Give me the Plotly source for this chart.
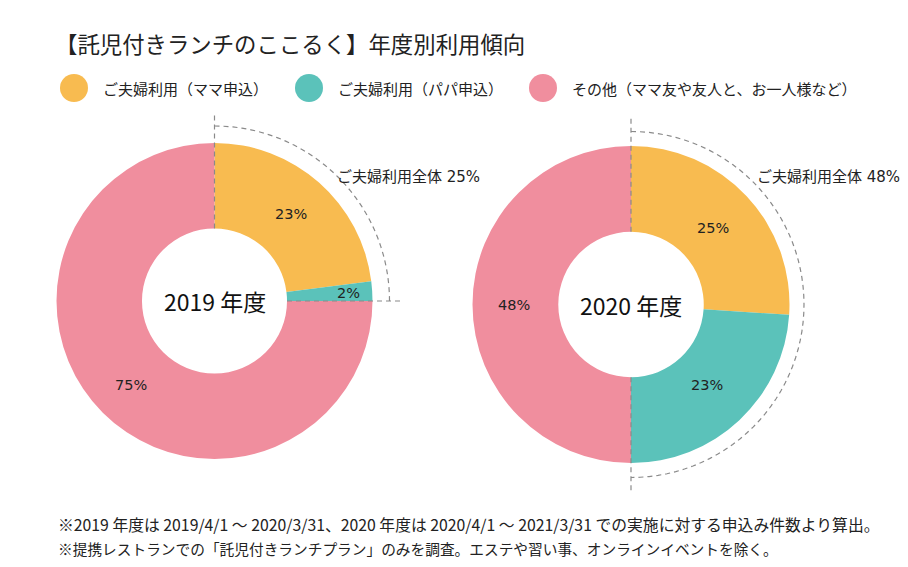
import math
import plotly.graph_objects as go

W, H = 908, 567
FONT = "Noto Sans CJK JP"
NUMFONT = "DejaVu Sans, Noto Sans CJK JP"

title = "【託児付きランチのここるく】年度別利用傾向"
categories = ["ご夫婦利用（ママ申込）", "ご夫婦利用（パパ申込）", "その他（ママ友や友人と、お一人様など）"]
colors = ["#F8BB50", "#5BC2BA", "#F08E9E"]
years = ["2019 年度", "2020 年度"]
values_2019 = [23, 2, 75]
values_2020 = [25, 23, 48]
couple_label = "ご夫婦利用全体 "
notes = [
    "※2019 年度は 2019/4/1 ～ 2020/3/31、2020 年度は 2020/4/1 ～ 2021/3/31 での実施に対する申込み件数より算出。",
    "※提携レストランでの「託児付きランチプラン」のみを調査。エステや習い事、オンラインイベントを除く。",
]

# layout (pixels)
pies = [
    dict(vals=values_2019, cx=214.5, cy=301.0, r=158.0, arc_r=175.0,
         lab_r=[0.73, 0.85, 0.75], note_xy=(335, 177)),
    dict(vals=values_2020, cx=631.0, cy=304.5, r=158.5, arc_r=173.0,
         lab_r=[0.71, 0.70, 0.74], note_xy=(755, 177)),
]
HOLE = 0.459
LINE_R = 189.0

fig = go.Figure()
shapes = []
annotations = []


def pt(cx, cy, rad, ang_deg):
    a = math.radians(ang_deg)
    return cx + rad * math.sin(a), cy - rad * math.cos(a)


for p, yr in zip(pies, years):
    cx, cy, r = p["cx"], p["cy"], p["r"]
    fig.add_trace(go.Pie(
        values=p["vals"], labels=categories, sort=False, direction="clockwise",
        rotation=0, hole=HOLE, textinfo="none", hoverinfo="label+value",
        marker=dict(colors=colors, line=dict(width=0)), showlegend=False,
        domain=dict(x=[(cx - r) / W, (cx + r) / W], y=[1 - (cy + r) / H, 1 - (cy - r) / H]),
    ))
    total = sum(p["vals"])
    start = 0.0
    for v, lr in zip(p["vals"], p["lab_r"]):
        mid = (start + v / 2) / total * 360
        x, y = pt(cx, cy, r * lr, mid)
        annotations.append(dict(x=x, y=y, xref="x", yref="y", text=f"{v}%", showarrow=False,
                                font=dict(size=14.5, color="#222", family=NUMFONT)))
        start += v
    # center text
    annotations.append(dict(x=cx, y=cy, xref="x", yref="y", text=yr, showarrow=False,
                            font=dict(size=23, color="#111", family=FONT)))
    # couples total
    couple = p["vals"][0] + p["vals"][1]
    end_ang = couple / total * 360
    nx, ny = p["note_xy"]
    annotations.append(dict(x=nx, y=ny, xref="x", yref="y", text=f"{couple_label}{couple}%",
                            showarrow=False, xanchor="left",
                            font=dict(size=15, color="#222", family=NUMFONT)))
    # dashed arc
    pts = [pt(cx, cy, p["arc_r"], end_ang * i / 60) for i in range(61)]
    path = "M " + " L ".join(f"{x:.2f},{y:.2f}" for x, y in pts)
    dash = dict(color="#8a8a8a", width=1.2, dash="5px,4px")
    shapes.append(dict(type="path", path=path, xref="x", yref="y", line=dash, layer="above"))
    # radial dashed lines at start and end
    for ang in (0.0, end_ang):
        x0, y0 = pt(cx, cy, r * HOLE, ang)
        x1, y1 = pt(cx, cy, LINE_R, ang)
        shapes.append(dict(type="line", x0=x0, y0=y0, x1=x1, y1=y1, xref="x", yref="y",
                           line=dash, layer="above"))

# title
annotations.append(dict(x=53, y=43, xref="x", yref="y", text=title, showarrow=False,
                        xanchor="left", font=dict(size=22.4, color="#222", family=FONT)))
# legend
leg_x = [74, 309, 543]
for lx, c, name in zip(leg_x, colors, categories):
    shapes.append(dict(type="circle", x0=lx - 14, x1=lx + 14, y0=74, y1=102, xref="x", yref="y",
                       fillcolor=c, line=dict(width=0), layer="above"))
    annotations.append(dict(x=lx + 27, y=88, xref="x", yref="y", text=name, showarrow=False,
                            xanchor="left", font=dict(size=15, color="#222", family=FONT)))
# notes
note_sizes = [15.8, 14.7]
for i, (n, s) in enumerate(zip(notes, note_sizes)):
    annotations.append(dict(x=56, y=524 + 24 * i, xref="x", yref="y", text=n, showarrow=False,
                            xanchor="left", font=dict(size=s, color="#222", family=FONT)))

fig.update_layout(
    width=W, height=H, margin=dict(l=0, r=0, t=0, b=0),
    paper_bgcolor="white", plot_bgcolor="rgba(0,0,0,0)",
    xaxis=dict(range=[0, W], visible=False, fixedrange=True, domain=[0, 1]),
    yaxis=dict(range=[H, 0], visible=False, fixedrange=True, domain=[0, 1]),
    shapes=shapes, annotations=annotations,
    font=dict(family=FONT),
)
fig.write_html("out.html")
